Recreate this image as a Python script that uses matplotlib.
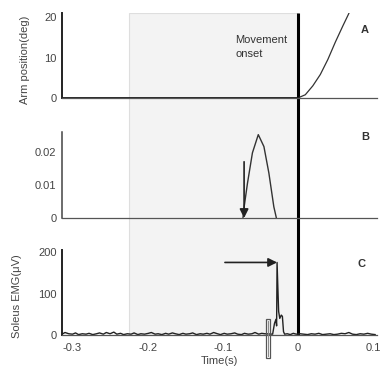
import numpy as np
import matplotlib
matplotlib.use("Agg")
import matplotlib.pyplot as plt
from matplotlib.patches import Rectangle

plt.rcParams['font.family'] = ['Liberation Sans', 'DejaVu Sans']
plt.rcParams['axes.unicode_minus'] = False

# ---------------- data ----------------
x_ticks = [-0.3, -0.2, -0.1, 0, 0.1]
x_tick_labels = ["-0.3", "-0.2", "-0.1", "0", "0.1"]

# Panel A: arm position (deg)
arm_t = [-0.314, 0.0, 0.01, 0.02, 0.03, 0.04, 0.05, 0.06, 0.067, 0.072]
arm_v = [0.0, 0.0, 0.8, 3.0, 5.8, 9.5, 13.8, 17.8, 20.5, 22.5]
a_ticks = [0, 10, 20]

# Panel B
b_t = [-0.073, -0.0714, -0.067, -0.0604, -0.0526, -0.0451, -0.0385, -0.0319, -0.0285]
b_v = [0.0, 0.0034, 0.0105, 0.0197, 0.0252, 0.0216, 0.0136, 0.0034, 0.0]
b_ticks = [0, 0.01, 0.02]
b_tick_labels = ["0", "0.01", "0.02"]
b_arrow_x = -0.0715
b_arrow_from = 0.017

# Panel C: soleus EMG (uV)
emg_base_t = [-0.314, -0.310, -0.305, -0.300, -0.296, -0.292, -0.287, -0.282, -0.278,
              -0.273, -0.268, -0.264, -0.259, -0.255, -0.250, -0.245, -0.241, -0.236,
              -0.232, -0.227, -0.222, -0.218, -0.213, -0.209, -0.204, -0.199, -0.195,
              -0.190, -0.186, -0.181, -0.176, -0.172, -0.167, -0.163, -0.158, -0.153,
              -0.149, -0.144, -0.140, -0.135, -0.130, -0.126, -0.121, -0.117, -0.112,
              -0.107, -0.103, -0.098, -0.094, -0.089, -0.084, -0.080, -0.075, -0.071,
              -0.066, -0.061, -0.057, -0.052, -0.048, -0.044, -0.0335]
emg_base_v = [2, 6, 3, 2, 5, 1, 3, 2, 4, 1, 3, 5, 2, 6, 3, 7, 2, 4, 1, 3, 2, 5, 1, 3,
              2, 4, 6, 2, 3, 1, 4, 2, 5, 3, 1, 4, 2, 3, 5, 1, 3, 2, 4, 2, 6, 3, 1, 4,
              2, 3, 5, 2, 1, 4, 2, 3, 6, 2, 4, 3, 2]
emg_spike_t = [-0.031, -0.029, -0.0282, -0.0276, -0.0255, -0.024, -0.022, -0.0205,
               -0.019, -0.0175]
emg_spike_v = [28, 38, 22, 175, 57, 40, 48, 45, 8, 2]
emg_post_t = [-0.014, -0.010, -0.006, -0.002, 0.003, 0.008, 0.013, 0.018, 0.023, 0.028,
              0.033, 0.038, 0.043, 0.048, 0.053, 0.058, 0.063, 0.068, 0.073, 0.078,
              0.083, 0.088, 0.093, 0.098, 0.103]
emg_post_v = [3, 1, 4, 2, 3, 2, 1, 3, 2, 4, 1, 2, 3, 1, 2, 4, 3, 6, 2, 1, 3, 2, 4, 2, 1]
c_ticks = [0, 100, 200]
c_arrow_from_x = -0.097
c_arrow_to_x = -0.0276
c_arrow_y = 175
marker_x0, marker_x1 = -0.0425, -0.0372
marker_y0, marker_y1 = -55, 38

onset_t = 0.0
shade_start = -0.225
xlim = (-0.314, 0.1055)

# ---------------- figure ----------------
W, H = 381, 369
fig = plt.figure(figsize=(W / 100, H / 100), dpi=100)
fig.patch.set_facecolor('white')

def fx(p):
    return p / W

def fy(p):
    return 1 - p / H

left, right = fx(62), fx(377)
wid = right - left
top_px = {'A': (13, 98), 'B': (132, 218), 'C': (250, 335)}

# background axes for shading and onset line
bg = fig.add_axes([left, fy(335), wid, fy(13) - fy(335)], zorder=0)
bg.set_xlim(*xlim)
bg.set_ylim(0, 1)
bg.axis('off')
bg.add_patch(Rectangle((shade_start, 0), onset_t - shade_start, 1, facecolor='#f3f3f3',
                       edgecolor='#dedede', linewidth=0.8))
bg.plot([onset_t, onset_t], [0, 1], color='black', linewidth=2.2, solid_capstyle='butt')

def make_ax(key):
    t, b = top_px[key]
    ax = fig.add_axes([left, fy(b), wid, fy(t) - fy(b)], zorder=1)
    ax.patch.set_alpha(0)
    ax.set_xlim(*xlim)
    for s in ['top', 'right']:
        ax.spines[s].set_visible(False)
    ax.spines['bottom'].set_color('#555555')
    ax.spines['bottom'].set_linewidth(0.9)
    ax.spines['left'].set_color('#222222')
    ax.spines['left'].set_linewidth(1.4)
    ax.tick_params(axis='both', length=0, labelsize=8, labelcolor='#444444', pad=4)
    return ax

# Panel A
axA = make_ax('A')
axA.set_ylim(0, 21)
axA.plot(arm_t, arm_v, color='#333333', linewidth=0.9, clip_on=True)
axA.plot([arm_t[0], 0], [0, 0], color='#111111', linewidth=1.8)
axA.set_yticks(a_ticks)
axA.set_xticks([])
axA.text(-0.083, 15.6, "Movement\nonset", fontsize=8, color='#333333', va='top',
         ha='left', linespacing=1.5)

# Panel B
axB = make_ax('B')
axB.set_ylim(0, 0.026)
axB.plot(b_t, b_v, color='#333333', linewidth=1.0)
axB.set_yticks(b_ticks)
axB.set_yticklabels(b_tick_labels)
axB.set_xticks([])
axB.spines['left'].set_color('#444444')
axB.spines['left'].set_linewidth(1.1)
axB.annotate('', xy=(b_arrow_x, 0.0), xytext=(b_arrow_x, b_arrow_from),
             arrowprops=dict(arrowstyle='-|>', color='#222222', lw=1.2,
                             mutation_scale=13, shrinkA=0, shrinkB=0))

# Panel C
axC = make_ax('C')
axC.set_ylim(0, 205)
axC.plot(emg_base_t + emg_spike_t + emg_post_t, emg_base_v + emg_spike_v + emg_post_v,
         color='#222222', linewidth=1.0)
axC.set_yticks(c_ticks)
axC.set_xticks(x_ticks)
axC.set_xticklabels(x_tick_labels)
axC.tick_params(axis='x', pad=6)
axC.set_xlabel('Time(s)', fontsize=8, color='#444444', labelpad=2)
axC.add_patch(Rectangle((marker_x0, marker_y0), marker_x1 - marker_x0, marker_y1 - marker_y0,
                        facecolor='none', edgecolor='#555555', linewidth=0.9, clip_on=False,
                        zorder=3))
axC.plot([(marker_x0 + marker_x1) / 2] * 2, [marker_y0 + 5, marker_y1 - 5], color='#888888',
         linewidth=0.7, clip_on=False, zorder=3)
axC.annotate('', xy=(c_arrow_to_x, c_arrow_y), xytext=(c_arrow_from_x, c_arrow_y),
             arrowprops=dict(arrowstyle='-|>', color='#222222', lw=1.2,
                             mutation_scale=13, shrinkA=0, shrinkB=0))

# labels
fig.text(fx(25), fy(60), 'Arm position(deg)', rotation=90, fontsize=8, color='#444444',
         ha='center', va='center')
fig.text(fx(17), fy(296), 'Soleus EMG(μV)', rotation=90, fontsize=8, color='#444444',
         ha='center', va='center')
fig.text(fx(365), fy(30), 'A', fontsize=8, fontweight='bold', color='#333333',
         ha='center', va='center')
fig.text(fx(365), fy(137), 'B', fontsize=8, fontweight='bold', color='#333333',
         ha='center', va='center')
fig.text(fx(362), fy(264), 'C', fontsize=8, fontweight='bold', color='#333333',
         ha='center', va='center')

fig.savefig('out.png', dpi=100, facecolor='white')
